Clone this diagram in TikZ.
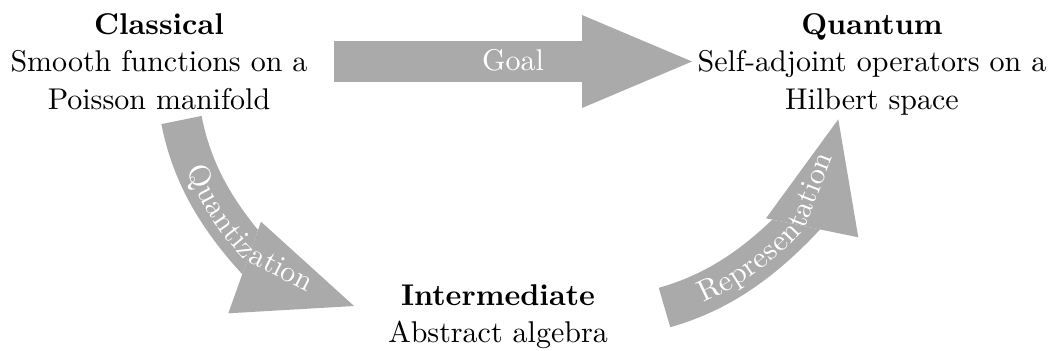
\documentclass[tikz,border=0pt]{standalone}
\usepackage{fontspec}
\setmainfont{lmroman10-regular}[Extension=.otf, BoldFont=lmroman10-bold, ItalicFont=lmroman10-italic]
\usetikzlibrary{decorations.text}
\definecolor{arrowgray}{RGB}{170,170,170}
\newcommand{\bigtext}{\fontsize{15}{18.75}\selectfont}
\begin{document}
\begin{tikzpicture}[x=0.5pt, y=-0.5pt,
  textblock/.style={align=center, inner sep=0pt, anchor=north, font=\bigtext},
  shaft/.style={draw=arrowgray, line width=20.5pt},
  head/.style={fill=arrowgray},
  curvetext/.style={decorate, decoration={text along path, text align=center, raise=-4.25pt, text color=white}}]
\useasboundingbox (0,0) rectangle (1049,350);

\node[textblock] (classical) at (159,13) {\textbf{Classical}\\Smooth functions on a\\Poisson manifold};
\node[textblock] (quantum) at (872,13) {\textbf{Quantum}\\Self-adjoint operators on a\\Hilbert space};
\node[textblock] (inter) at (498,284) {\textbf{Intermediate}\\Abstract algebra};

% Goal
\coordinate (g-s) at (334,61.5);
\coordinate (g-e) at (583,61.5);
\coordinate (g-h1) at (582,15);
\coordinate (g-h2) at (582,108);
\coordinate (g-t) at (692,61.5);
\draw[shaft] (g-s) -- (g-e);
\fill[head] (g-h1) -- (g-t) -- (g-h2) -- cycle;
\path (g-s) -- node[anchor=base, yshift=-4.25pt, text=white, font=\bigtext, inner sep=0pt] (goal) {Goal} (g-t);

% Quantization
\coordinate (q-s) at (181.5,120);
\coordinate (q-e) at (250,253);
\coordinate (q-h1) at (261,221.7);
\coordinate (q-h2) at (228.3,313.3);
\coordinate (q-t) at (354,306);
\begin{scope}
  \clip (328.2,33.5) -- (161.1,501.5) -- (-215.3,367.1) -- (-48.2,-100.9) -- cycle;
  \draw[shaft, shorten >=-12pt] (q-s) .. controls (191.2,169.9) and (214.7,216.5) .. (q-e);
\end{scope}
\fill[head] (q-h1) -- (q-t) -- (q-h2) -- cycle;
\path[curvetext, decoration={text={|\bigtext|Quantization}}] (q-s) .. controls (191.2,169.9) and (214.7,216.5) .. (q-e) -- (q-t);

% Representation
\coordinate (r-s) at (664.5,307.5);
\coordinate (r-e) at (797,224.7);
\coordinate (r-h1) at (766,218.3);
\coordinate (r-h2) at (858.3,237.3);
\coordinate (r-t) at (838.3,119.3);
\begin{scope}
  \clip (570,178) -- (1054.3,277.6) -- (973.6,669.6) -- (489.3,570) -- cycle;
  \draw[shaft, shorten >=-12pt] (r-s) .. controls (715.6,293.1) and (761.7,264.3) .. (r-e);
\end{scope}
\fill[head] (r-h1) -- (r-t) -- (r-h2) -- cycle;
\path[curvetext, decoration={text={|\bigtext|Representation}}] (r-s) .. controls (715.6,293.1) and (761.7,264.3) .. (r-e) -- (r-t);
\end{tikzpicture}
\end{document}
